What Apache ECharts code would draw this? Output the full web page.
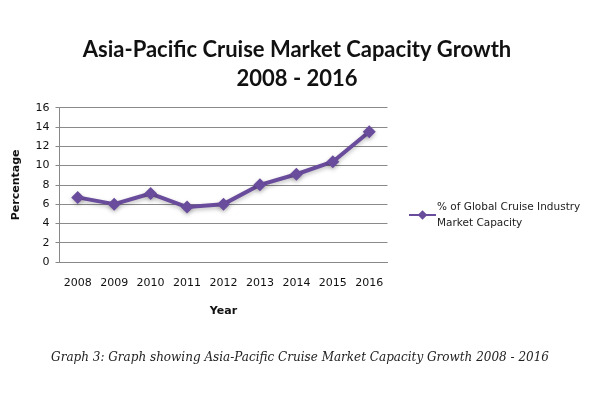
<!DOCTYPE html>
<html><head><meta charset="utf-8">
<script src="https://cdn.jsdelivr.net/npm/echarts@6/dist/echarts.min.js"></script>
<style>html,body{margin:0;padding:0;background:#fff}#c{width:600px;height:400px}</style>
</head><body><div id="c"></div>
<script>
const years = ['2008','2009','2010','2011','2012','2013','2014','2015','2016'];
const capacityPct = [6.7, 6.0, 7.1, 5.7, 6.0, 8.0, 9.1, 10.4, 13.5];
const seriesName = '% of Global Cruise Industry\nMarket Capacity';
const yTicks = {min: 0, max: 16, interval: 2};

const chart = echarts.init(document.getElementById('c'), null, {renderer: 'canvas'});
chart.setOption({
  animation: false,
  backgroundColor: '#fff',
  title: [
    {text: 'Asia-Pacific Cruise Market Capacity Growth\n2008 - 2016', left: 292, top: 30, textAlign: 'center',
     textStyle: {fontFamily: 'Lato', fontWeight: 'bold', fontSize: 22, lineHeight: 29, color: '#111'}},
    {text: 'Graph 3: Graph showing Asia-Pacific Cruise Market Capacity Growth 2008 - 2016', left: 295, top: 347, textAlign: 'center',
     textStyle: {fontFamily: 'DejaVu Serif', fontStyle: 'italic', fontWeight: 'normal', fontSize: 12, color: '#222'}}
  ],
  legend: {
    left: 403, top: 194, orient: 'vertical', itemWidth: 27, itemHeight: 12, itemGap: 3,
    textStyle: {fontFamily: 'DejaVu Sans', fontSize: 10.5, color: '#222', lineHeight: 16, padding: [0,0,0,-4]},
    data: [{name: seriesName}]
  },
  grid: {left: 59.5, top: 107.7, width: 328, height: 154.3, containLabel: false},
  xAxis: {
    type: 'category', data: years, boundaryGap: true,
    name: 'Year', nameLocation: 'middle', nameGap: 44,
    nameTextStyle: {fontFamily: 'DejaVu Sans', fontWeight: 'bold', fontSize: 11, color: '#111'},
    axisLine: {lineStyle: {color: '#888'}},
    axisTick: {show: false},
    axisLabel: {fontFamily: 'DejaVu Sans', fontSize: 11, color: '#111', margin: 16}
  },
  yAxis: {
    type: 'value', min: yTicks.min, max: yTicks.max, interval: yTicks.interval,
    name: 'Percentage', nameLocation: 'middle', nameGap: 38, nameRotate: 90,
    nameTextStyle: {fontFamily: 'DejaVu Sans', fontWeight: 'bold', fontSize: 11, color: '#111'},
    axisLine: {show: true, lineStyle: {color: '#888'}},
    axisTick: {show: true, length: 4, lineStyle: {color: '#888'}},
    axisLabel: {fontFamily: 'DejaVu Sans', fontSize: 11, color: '#111', margin: 10},
    splitLine: {lineStyle: {color: '#8a8a8a', width: 1}}
  },
  series: [{
    name: seriesName, type: 'line', data: capacityPct,
    symbol: 'diamond', symbolSize: 13,
    lineStyle: {color: '#6a4c9c', width: 4, shadowColor: 'rgba(0,0,0,0.25)', shadowBlur: 4, shadowOffsetY: 2},
    itemStyle: {color: '#6a4c9c', shadowColor: 'rgba(0,0,0,0.25)', shadowBlur: 4, shadowOffsetY: 2}
  }]
});
</script></body></html>
